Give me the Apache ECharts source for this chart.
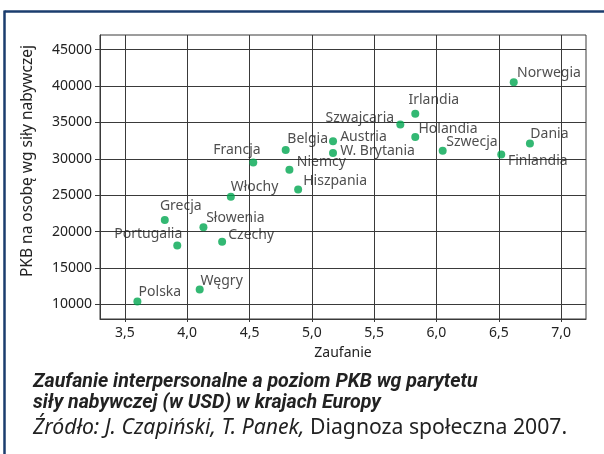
<!DOCTYPE html>
<html><head><meta charset="utf-8">
<script src="https://cdn.jsdelivr.net/npm/echarts@6/dist/echarts.min.js"></script>
<style>html,body{margin:0;padding:0;background:#fff}#c{width:604px;height:454px}</style>
</head><body><div id="c"></div>
<script>
const countries = ['Polska','Węgry','Portugalia','Grecja','Słowenia','Czechy','Włochy','Francja','Belgia','Niemcy','Hiszpania','Austria','W. Brytania','Szwajcaria','Irlandia','Holandia','Szwecja','Finlandia','Dania','Norwegia'];
const trust = [3.60,4.10,3.92,3.82,4.13,4.28,4.35,4.53,4.79,4.82,4.89,5.17,5.17,5.71,5.83,5.83,6.05,6.52,6.75,6.62];
const gdp = [10400,12050,18100,21600,20600,18600,24800,29500,31200,28500,25800,32400,30800,34700,36200,33000,31100,30600,32100,40500];
const xTicks = [3.5,4.0,4.5,5.0,5.5,6.0,6.5,7.0];
const yTicks = [10000,15000,20000,25000,30000,35000,40000,45000];
const xName = 'Zaufanie';
const yName = 'PKB na osobę wg siły nabywczej';
const captionLine1 = 'Zaufanie interpersonalne a poziom PKB wg parytetu';
const captionLine2 = 'siły nabywczej (w USD) w krajach Europy';
const sourceItalic = 'Źródło: J. Czapiński, T. Panek,';
const sourceRegular = 'Diagnoza społeczna 2007.';

// label placement (layout only)
const labelOffsets = {
  'Polska':[22.5,-10],'Węgry':[22,-8.5],'Portugalia':[-29,-11],'Grecja':[16,-13.5],
  'Słowenia':[32,-9.5],'Czechy':[29,-6.5],'Włochy':[23.7,-10],'Francja':[-16.3,-12],
  'Belgia':[22,-11],'Niemcy':[32,-8],'Hiszpania':[37,-8.5],'Austria':[30.4,-4.5],
  'W. Brytania':[44.5,-1.5],'Szwajcaria':[-40.5,-7],'Irlandia':[18.5,-14],'Holandia':[32.7,-8],
  'Szwecja':[29.3,-8.7],'Finlandia':[36.5,6.4],'Dania':[19.5,-9],'Norwegia':[35.2,-9]
};

const FONT = 'Noto Sans';
const TXT = '#222';
const LINE = '#3a3a3a';

const data = countries.map((n,i)=>({
  name:n, value:[trust[i],gdp[i]],
  label:{offset:labelOffsets[n]}
}));

const chart = echarts.init(document.getElementById('c'), null, {renderer:'canvas'});
chart.setOption({
  animation:false,
  textStyle:{fontFamily:FONT},
  grid:{left:100,right:18,top:35,bottom:135,show:true,borderColor:LINE,borderWidth:1},
  xAxis:{
    type:'value',min:3.3,max:7.2,
    name:xName,nameLocation:'middle',nameGap:27,
    nameTextStyle:{fontFamily:FONT,fontSize:14,color:TXT},
    axisLine:{show:true,lineStyle:{color:LINE}},
    axisTick:{show:true,length:3,customValues:xTicks,lineStyle:{color:LINE}},
    axisLabel:{customValues:xTicks,margin:7,fontFamily:FONT,fontSize:14,color:TXT,
      formatter:v=>v.toFixed(1).replace('.',',')},
    splitLine:{show:true,lineStyle:{color:LINE,width:1}}
  },
  yAxis:{
    type:'value',min:8000,max:47000,
    axisLine:{show:true,lineStyle:{color:LINE}},
    axisTick:{show:true,length:5,customValues:yTicks,lineStyle:{color:LINE}},
    axisLabel:{customValues:yTicks,margin:8,fontFamily:FONT,fontSize:14,color:TXT,
      formatter:v=>String(Math.round(v))},
    splitLine:{show:true,lineStyle:{color:LINE,width:1}}
  },
  series:[{
    type:'scatter',symbol:'circle',symbolSize:8,
    itemStyle:{color:'#00a650'},
    label:{show:true,position:'inside',formatter:'{b}',fontFamily:FONT,fontSize:14,color:TXT},
    data:data
  }],
  graphic:[
    {type:'line',shape:{x1:4.5,y1:11.5,x2:604,y2:11.5},style:{stroke:'#1b3d6e',lineWidth:2.5},silent:true},
    {type:'line',shape:{x1:4.5,y1:10.5,x2:4.5,y2:454},style:{stroke:'#1b3d6e',lineWidth:2.5},silent:true},
    {type:'text',x:28,y:161,rotation:Math.PI/2,
      style:{text:yName,fontFamily:FONT,fontSize:15.5,fill:TXT,align:'center',verticalAlign:'middle'}},
    {type:'text',left:33,top:372,
      style:{text:captionLine1,fontFamily:'Roboto',fontStyle:'italic',fontWeight:'bold',fontSize:19.6,fill:'#222'}},
    {type:'text',left:33,top:393,
      style:{text:captionLine2,fontFamily:'Roboto',fontStyle:'italic',fontWeight:'bold',fontSize:19.6,fill:'#222'}},
    {type:'text',left:33,top:417,
      style:{text:'{i|'+sourceItalic+'}{r| '+sourceRegular+'}',
        rich:{i:{fontFamily:'Noto Sans',fontStyle:'italic',fontSize:21.2,fill:'#222',color:'#222'},
              r:{fontFamily:'Noto Sans',fontSize:21.2,fill:'#222',color:'#222'}}}}
  ]
});
</script></body></html>
